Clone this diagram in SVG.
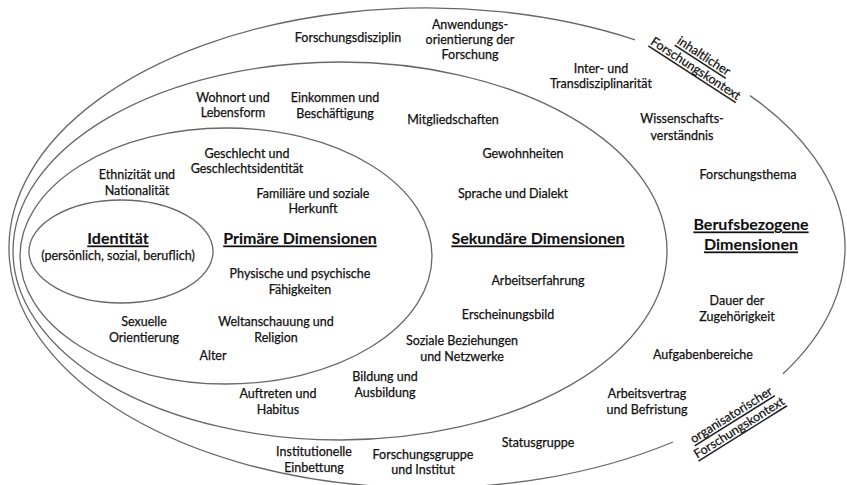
<svg xmlns="http://www.w3.org/2000/svg" width="847" height="485" viewBox="0 0 847 485">
<style>
.ring{fill:none;stroke:#686868;stroke-width:1.3}
text{font-family:Lato,"Liberation Sans",sans-serif;font-size:12.5px;fill:#111;stroke:#111;stroke-width:0.25;text-anchor:middle;dominant-baseline:central}
.h{font-size:16px;font-weight:bold;stroke-width:0.1;text-decoration:underline}
.ctx{font-size:12.5px;text-decoration:underline}
</style>
<rect width="847" height="485" fill="#fff"/>
<g id="rings">
<path id="outer" class="ring" d="M 750 95.6 A 418 240 0 0 1 783 373.8 M 673 442 A 418 240 0 1 1 635 39.8"/>
<ellipse id="secondary" class="ring" cx="340" cy="251" rx="327" ry="189"/>
<ellipse id="primary" class="ring" cx="226" cy="256" rx="206" ry="128"/>
<ellipse id="identity" class="ring" cx="121" cy="251.5" rx="92" ry="51.5"/>
</g>
<g id="identity-labels">
<text class="h" x="118" y="237">Identität</text>
<text x="118" y="255">(persönlich, sozial, beruflich)</text>
</g>
<g id="primary-labels">
<text class="h" x="300" y="237">Primäre Dimensionen</text>
<text x="247" y="153">Geschlecht und</text><text x="247" y="168">Geschlechtsidentität</text>
<text x="137" y="174">Ethnizität und</text><text x="137" y="190">Nationalität</text>
<text x="313" y="193">Familiäre und soziale</text><text x="313" y="208">Herkunft</text>
<text x="300" y="273">Physische und psychische</text><text x="300" y="289">Fähigkeiten</text>
<text x="144" y="321">Sexuelle</text><text x="144" y="337">Orientierung</text>
<text x="276" y="321">Weltanschauung und</text><text x="276" y="337">Religion</text>
<text x="213" y="355">Alter</text>
</g>
<g id="secondary-labels">
<text class="h" x="538" y="237">Sekundäre Dimensionen</text>
<text x="233" y="97">Wohnort und</text><text x="233" y="112">Lebensform</text>
<text x="335" y="97">Einkommen und</text><text x="335" y="113">Beschäftigung</text>
<text x="453" y="119">Mitgliedschaften</text>
<text x="523" y="153">Gewohnheiten</text>
<text x="513" y="193">Sprache und Dialekt</text>
<text x="538" y="280">Arbeitserfahrung</text>
<text x="508" y="314">Erscheinungsbild</text>
<text x="462" y="340">Soziale Beziehungen</text><text x="462" y="356">und Netzwerke</text>
<text x="385" y="376">Bildung und</text><text x="385" y="392">Ausbildung</text>
<text x="278" y="393">Auftreten und</text><text x="278" y="409">Habitus</text>
</g>
<g id="professional-labels">
<text class="h" x="751" y="223">Berufsbezogene</text><text class="h" x="751" y="243">Dimensionen</text>
<text x="348" y="37">Forschungsdisziplin</text>
<text x="470" y="24">Anwendungs-</text><text x="470" y="39">orientierung der</text><text x="470" y="54">Forschung</text>
<text x="601" y="68">Inter- und</text><text x="601" y="83">Transdisziplinarität</text>
<text x="682" y="118">Wissenschafts-</text><text x="682" y="135">verständnis</text>
<text x="748" y="174">Forschungsthema</text>
<text x="737" y="300">Dauer der</text><text x="737" y="316">Zugehörigkeit</text>
<text x="703" y="354">Aufgabenbereiche</text>
<text x="647" y="393">Arbeitsvertrag</text><text x="647" y="409">und Befristung</text>
<text x="538" y="442">Statusgruppe</text>
<text x="314" y="451">Institutionelle</text><text x="314" y="467">Einbettung</text>
<text x="423" y="454">Forschungsgruppe</text><text x="423" y="469">und Institut</text>
</g>
<g id="context-top" transform="translate(700,62) rotate(33)">
<text class="ctx" x="0" y="-7.5">inhaltlicher</text><text class="ctx" x="0" y="7.5">Forschungskontext</text>
</g>
<g id="context-bottom" transform="translate(735,421) rotate(-32)">
<text class="ctx" x="0" y="-7.5">organisatorischer</text><text class="ctx" x="0" y="7.5">Forschungskontext</text>
</g>
</svg>
